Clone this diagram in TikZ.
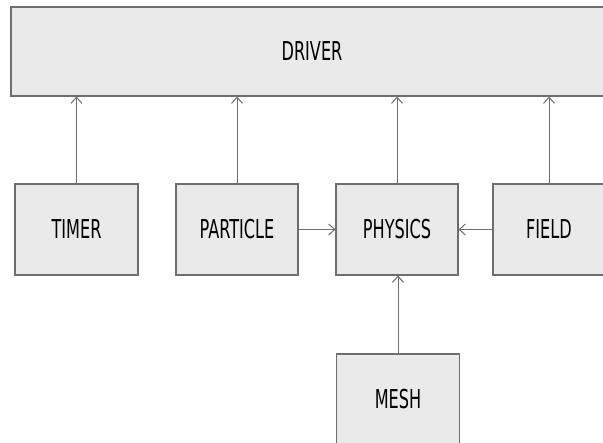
\documentclass[tikz,border=0pt]{standalone}
\usepackage{fontspec}
\setmainfont[FakeStretch=0.62]{DejaVu Sans}
\usetikzlibrary{calc, arrows.meta, positioning}
\definecolor{boxfill}{HTML}{EAEAEA}
\definecolor{boxline}{HTML}{6E6E6E}

\begin{document}
\begin{tikzpicture}[x=1pt, y=1pt,
        modbox/.style={draw=boxline, fill=boxfill, line width=1.2pt, minimum height=91pt,
            inner sep=0pt, font=\fontsize{26}{26}\selectfont, text=black},
        link/.style={draw=boxline, line width=1pt, -{Straight Barb[length=6pt, width=11pt]}}]
        \useasboundingbox (0,0) rectangle (603,443);
        \clip (0,0) rectangle (603,443);
        \fill[white] (0,0) rectangle (603,443);
        \node[modbox, minimum width=602pt, minimum height=89pt] (driver) at (312,391.5) {DRIVER};
        \node[modbox, minimum width=123pt] (timer) at (76.5,213.5) {TIMER};
        \node[modbox, minimum width=122pt] (particle) at (237,213.5) {PARTICLE};
        \node[modbox, minimum width=122pt] (physics) at (397,213.5) {PHYSICS};
        \node[modbox, minimum width=112pt] (field) at (549,213.5) {FIELD};
        \node[modbox, minimum width=123pt] (mesh) at (398,43.5) {MESH};

        \foreach \v in {timer, particle, physics, field}
        {
            \draw[link] (\v.north) -- (\v.north |- driver.south);
        };
        \draw[link] (particle.east) -- (physics.west);
        \draw[link] (field.west) -- (physics.east);
        \draw[link] (mesh.north) -- (mesh.north |- physics.south);
\end{tikzpicture}
\end{document}
